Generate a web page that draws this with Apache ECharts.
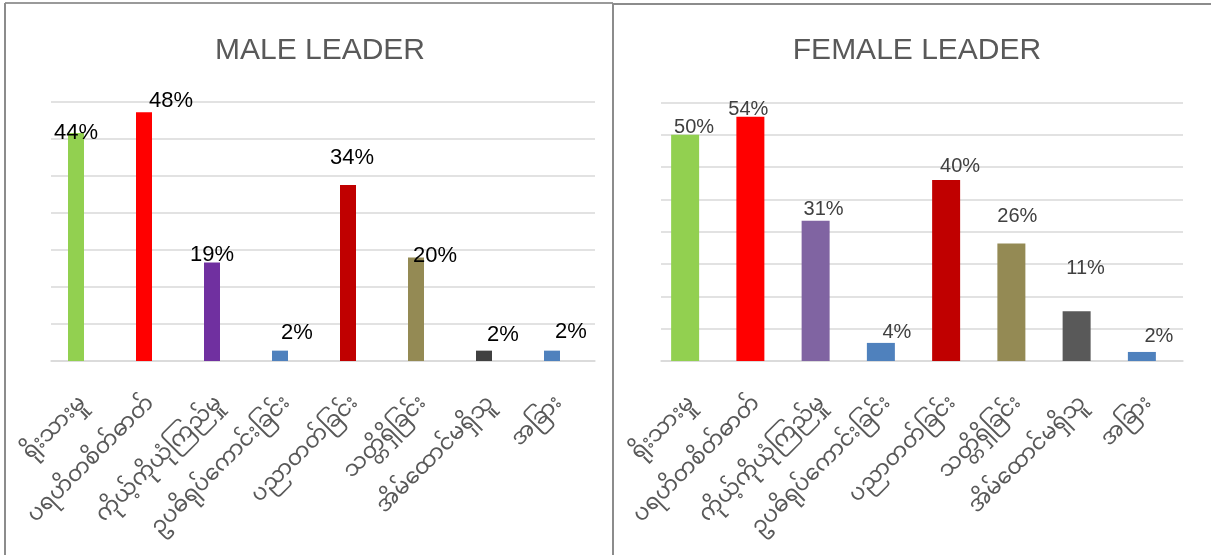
<!DOCTYPE html>
<html>
<head>
<meta charset="utf-8">
<script src="https://cdn.jsdelivr.net/npm/echarts@6/dist/echarts.min.js"></script>
<style>
  html, body { margin: 0; padding: 0; background: #fff; }
  #chart { width: 1211px; height: 555px; }
</style>
</head>
<body>
<div id="chart"></div>
<script>
// categories (Myanmar)
const categories = ['ရိုးသားမှု', 'ပရဟိတစိတ်ဓာတ်', 'ကိုယ့်ကိုယုံကြည်မှု', 'ဥပဓိရုပ်ကောင်းခြင်း', 'ပညာတတ်ခြင်း', 'သတ္တိရှိခြင်း', 'အိမ်ထောင်မရှိသူ', 'အခြား']
const malePct = [44, 48, 19, 2, 34, 20, 2, 2]
const femalePct = [50, 54, 31, 4, 40, 26, 11, 2]

const maleColors = ['#92D050', '#FF0000', '#7030A0', '#4F81BD', '#C00000', '#948A54', '#404040', '#4F81BD']
const femaleColors = ['#92D050', '#FF0000', '#8064A2', '#4F81BD', '#C00000', '#948A54', '#595959', '#4F81BD']

// data label nudges (as placed in the original)
const maleLabelShift = [[0, 11], [27, 0], [0, 3], [17, -7], [4, -16], [19, 10], [19, -5], [19, -8]]
const femaleLabelShift = [[9, 3], [-2, 3], [8, -1], [16, 0], [14, -4], [6, -17], [9, -33], [17, -5]]

const step = 50 / 7
const myFont = "'Noto Sans Myanmar', 'Myanmar Text', 'Padauk', 'Noto Sans', sans-serif"
const latin = "'Liberation Sans', Arial, sans-serif"

const chart = echarts.init(document.getElementById('chart'))

// axis that carries the gridlines + category labels
const labelX = (gridIndex) => ({
  type: 'category',
  gridIndex,
  data: categories,
  axisTick: { show: false },
  axisLine: { lineStyle: { color: '#d9d9d9', width: 1.5 } },
  axisLabel: {
    rotate: 45,
    interval: 0,
    color: '#595959',
    fontSize: 22,
    fontFamily: myFont,
    margin: 41
  }
})

// axis the bars sit on (Excel plots them a little left of the gridlines)
const barX = (gridIndex) => ({
  type: 'category',
  gridIndex,
  data: categories,
  show: false
})

const makeY = (gridIndex, max, lines) => ({
  type: 'value',
  gridIndex,
  min: 0,
  max,
  interval: step,
  axisLabel: { show: false },
  axisLine: { show: false },
  axisTick: { show: false },
  splitLine: { show: lines, lineStyle: { color: '#d9d9d9', width: 1.5 } }
})

const makeSeries = (idx, values, colors, shifts, labelColor, labelSize, barWidth) => ({
  type: 'bar',
  xAxisIndex: idx,
  yAxisIndex: idx,
  barWidth,
  data: values.map((v, i) => ({
    value: v,
    itemStyle: { color: colors[i] },
    label: { offset: shifts[i] }
  })),
  label: {
    show: true,
    position: 'top',
    distance: 0,
    formatter: '{c}%',
    color: labelColor,
    fontSize: labelSize,
    fontFamily: latin
  }
})

chart.setOption({
  animation: false,
  title: [
    {
      text: 'MALE LEADER', left: 315, top: 31, textAlign: 'center',
      textStyle: { color: '#595959', fontSize: 30, fontWeight: 'normal', fontFamily: latin }
    },
    {
      text: 'FEMALE LEADER', left: 912, top: 31, textAlign: 'center',
      textStyle: { color: '#595959', fontSize: 30, fontWeight: 'normal', fontFamily: latin }
    }
  ],
  grid: [
    { left: 51, right: 616, top: 102, bottom: 194 },
    { left: 42, right: 625, top: 102, bottom: 194 },
    { left: 661, right: 28, top: 102.5, bottom: 194 },
    { left: 652.5, right: 36.5, top: 102.5, bottom: 194 }
  ],
  xAxis: [labelX(0), barX(1), labelX(2), barX(3)],
  yAxis: [
    makeY(0, 50, true), makeY(1, 50, false),
    makeY(2, 8 * step, true), makeY(3, 8 * step, false)
  ],
  series: [
    makeSeries(1, malePct, maleColors, maleLabelShift, '#000000', 22, 16),
    makeSeries(3, femalePct, femaleColors, femaleLabelShift, '#404040', 20, 28)
  ],
  graphic: [
    { type: 'line', shape: { x1: 5, y1: 3, x2: 613, y2: 3 }, style: { stroke: '#9a9a9a', lineWidth: 2 } },
    { type: 'line', shape: { x1: 5, y1: 3, x2: 5, y2: 555 }, style: { stroke: '#8c8c8c', lineWidth: 2 } },
    { type: 'line', shape: { x1: 613, y1: 3, x2: 613, y2: 555 }, style: { stroke: '#8c8c8c', lineWidth: 2 } },
    { type: 'line', shape: { x1: 613, y1: 4, x2: 1211, y2: 4 }, style: { stroke: '#8c8c8c', lineWidth: 2 } }
  ]
})
</script>
</body>
</html>
